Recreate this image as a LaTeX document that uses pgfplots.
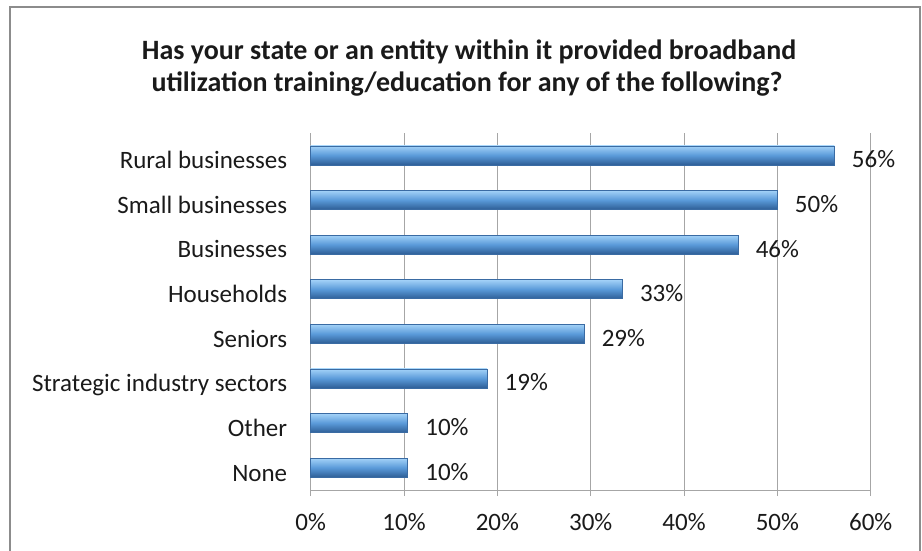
\documentclass[border=0pt]{standalone}
\usepackage{pgfplots}
\pgfplotsset{compat=1.18}
\usepackage{fontspec}
\setmainfont{Carlito}
\definecolor{barmid}{HTML}{5A9AD9}
\definecolor{bartop}{HTML}{A3D2F8}
\definecolor{barbot}{HTML}{2E5E96}
\definecolor{baredge}{HTML}{3A6BA3}
\definecolor{gridc}{HTML}{A6A6A6}
\definecolor{framec}{HTML}{8C8C8C}
\definecolor{txt}{HTML}{1A1A1A}
\pgfplotsset{bev/.style={xbar, bar shift=0pt, draw=baredge, line width=0.6pt, top color=bartop, bottom color=barbot, middle color=barmid}}
\begin{document}
\begin{tikzpicture}
\useasboundingbox (0,0) rectangle (922pt,550pt);
\draw[framec, line width=1.2pt] (10pt,-10pt) -- (10pt,543pt) -- (920pt,543pt) -- (920pt,-10pt);
\node[anchor=base, inner sep=0pt, font=\fontsize{28}{33}\selectfont\bfseries, text=txt] at (469pt,490pt) {Has your state or an entity within it provided broadband};
\node[anchor=base, inner sep=0pt, font=\fontsize{28}{33}\selectfont\bfseries, text=txt] at (467pt,458.3pt) {utilization training/education for any of the following?};
\begin{axis}[
 at={(310.7pt,60pt)}, anchor=south west,
 scale only axis, width=560pt, height=357pt,
 xmin=0, xmax=60, ymin=0.5, ymax=8.5,
 xbar, bar width=19pt, point meta=x,
 axis x line*=bottom, axis y line*=left,
 axis line style={gridc, line width=1pt, -},
 xmajorgrids, grid style={gridc, line width=0.9pt},
 xtick={0,10,...,60},
 xticklabel={\pgfmathprintnumber{\tick}\%},
 ytick={1,...,8},
 yticklabels={None,Other,Strategic industry sectors,Seniors,Households,Businesses,Small businesses,Rural businesses},
 tick align=outside,
 xtick style={gridc, line width=0.9pt},
 major tick length=6pt,
 ytick style={draw=none},
 extra y ticks={0.5,1.5,2.5,3.5,4.5,5.5,6.5,7.5,8.5},
 extra y tick labels={},
 extra y tick style={tick style={draw=gridc, line width=0.9pt}, major tick length=7pt, grid=none},
 /pgf/number format/assume math mode=true,
 tick label style={text=txt},
 xticklabel style={font=\fontsize{25}{30}\selectfont, anchor=base, yshift=-34pt},
 yticklabel style={font=\fontsize{25}{30}\selectfont, anchor=base east, xshift=-14pt, yshift=-13.4pt},
 nodes near coords={\pgfmathprintnumber[fixed,precision=0]{\pgfplotspointmeta}\%},
 nodes near coords style={anchor=base west, xshift=14pt, yshift=-12.5pt, font=\fontsize{25}{30}\selectfont, text=txt},
 clip=false,
]
\addplot[bev] coordinates {(10.4,1)};
\addplot[bev] coordinates {(10.4,2)};
\addplot[bev] coordinates {(18.9,3)};
\addplot[bev] coordinates {(29.3,4)};
\addplot[bev] coordinates {(33.4,5)};
\addplot[bev] coordinates {(45.8,6)};
\addplot[bev] coordinates {(50,7)};
\addplot[bev] coordinates {(56.1,8)};
\end{axis}
\end{tikzpicture}
\end{document}
